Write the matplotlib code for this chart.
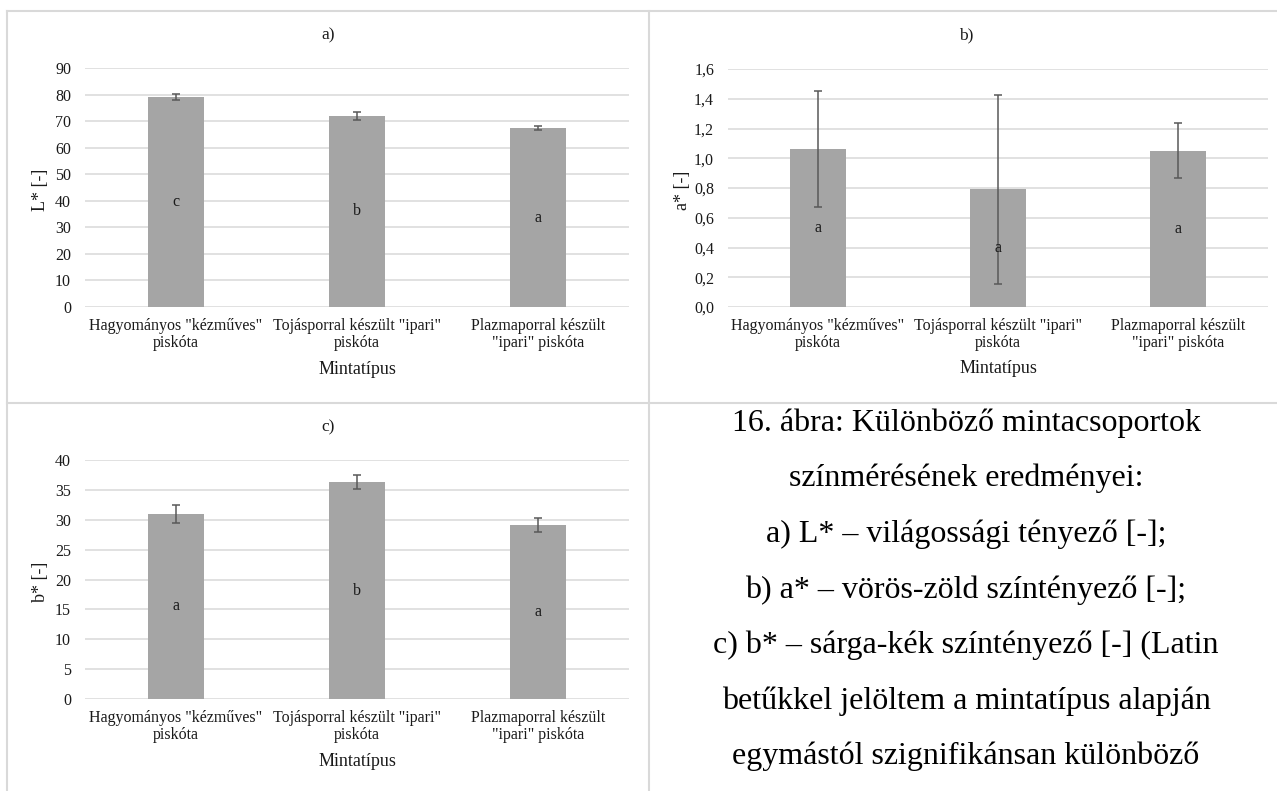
import matplotlib
matplotlib.use('Agg')
import matplotlib.pyplot as plt
from matplotlib.lines import Line2D

plt.rcParams['font.family'] = ['Liberation Serif', 'DejaVu Serif']

W, H = 1277, 791

categories = ['Hagyományos "kézműves"\npiskóta',
              'Tojásporral készült "ipari"\npiskóta',
              'Plazmaporral készült\n"ipari" piskóta']

L_mean = [79.2, 72.0, 67.4]
L_err = [1.1, 1.5, 0.9]
L_letters = ['c', 'b', 'a']

a_mean = [1.06, 0.79, 1.05]
a_err = [0.39, 0.635, 0.185]
a_letters = ['a', 'a', 'a']

b_mean = [31.0, 36.3, 29.1]
b_err = [1.5, 1.15, 1.15]
b_letters = ['a', 'b', 'a']

L_ticks = [0, 10, 20, 30, 40, 50, 60, 70, 80, 90]
a_ticks = [0.0, 0.2, 0.4, 0.6, 0.8, 1.0, 1.2, 1.4, 1.6]
b_ticks = [0, 5, 10, 15, 20, 25, 30, 35, 40]

caption = ['16. ábra: Különböző mintacsoportok',
           'színmérésének eredményei:',
           'a) L* – világossági tényező [-];',
           'b) a* – vörös-zöld színtényező [-];',
           'c) b* – sárga-kék színtényező [-] (Latin',
           'betűkkel jelöltem a mintatípus alapján',
           'egymástól szignifikánsan különböző']


def px(x, y):
    return x / W, 1 - y / H


def make_axes(fig, left, top, right, bottom):
    return fig.add_axes([left / W, 1 - bottom / H, (right - left) / W, (bottom - top) / H])


def bar_panel(ax, means, errs, letters, ticks, fmt):
    x = range(len(means))
    ax.bar(x, means, width=0.31, color='#a5a5a5', zorder=2)
    ax.errorbar(x, means, yerr=errs, fmt='none', ecolor='#595959',
                elinewidth=1.1, capsize=3.0, capthick=1.1, zorder=3)
    for i, (m, t) in enumerate(zip(means, letters)):
        ax.text(i, m / 2, t, ha='center', va='center', fontsize=11.5,
                color='#1a1a1a', zorder=4)
    ax.set_xlim(-0.5, len(means) - 0.5)
    ax.set_ylim(ticks[0], ticks[-1])
    ax.set_yticks(ticks)
    ax.set_yticklabels([fmt(v) for v in ticks], fontsize=11.5, color='#1a1a1a')
    ax.set_xticks(list(x))
    ax.set_xticklabels(categories, fontsize=11.5, color='#1a1a1a')
    for t in ax.get_xticklabels():
        t.set_linespacing(1.05)
    ax.tick_params(axis='both', length=0)
    ax.tick_params(axis='y', pad=10)
    ax.tick_params(axis='x', pad=8)
    ax.yaxis.grid(True, color='#d9d9d9', lw=1.1)
    ax.set_axisbelow(True)
    for s in ax.spines.values():
        s.set_visible(False)


fig = plt.figure(figsize=(W / 100, H / 100), dpi=100)

ax1 = make_axes(fig, 85, 68, 629, 307)
bar_panel(ax1, L_mean, L_err, L_letters, L_ticks, lambda v: str(v))

ax2 = make_axes(fig, 728, 69, 1268, 307)
bar_panel(ax2, a_mean, a_err, a_letters, a_ticks, lambda v: f'{v:.1f}'.replace('.', ','))

ax3 = make_axes(fig, 85, 460, 629, 699)
bar_panel(ax3, b_mean, b_err, b_letters, b_ticks, lambda v: str(v))

# panel titles and axis titles
for txt, x, y in [('a)', 328, 35), ('b)', 966, 35), ('c)', 328, 427)]:
    fig.text(*px(x, y), txt, ha='center', va='center', fontsize=12.5, color='#1a1a1a')
for txt, x, y in [('L* [-]', 41, 190), ('a* [-]', 682, 190), ('b* [-]', 41, 582)]:
    fig.text(*px(x, y), txt, ha='center', va='center', rotation=90, fontsize=13,
             color='#1a1a1a')
for x, y in [(357, 370), (998, 369), (357, 762)]:
    fig.text(*px(x, y), 'Mintatípus', ha='center', va='center', fontsize=13,
             color='#1a1a1a')

# caption
for i, line in enumerate(caption):
    fig.text(*px(966, 423 + i * 55.6), line, ha='center', va='center', fontsize=23)

# panel borders
border = '#d9d9d9'
for (x0, y0), (x1, y1) in [((7, 11), (1277, 11)), ((7, 11), (7, 791)),
                           ((649, 11), (649, 791)), ((7, 403), (1277, 403))]:
    fx0, fy0 = px(x0, y0)
    fx1, fy1 = px(x1, y1)
    fig.add_artist(Line2D([fx0, fx1], [fy0, fy1], color=border, lw=1.5,
                          transform=fig.transFigure))

fig.savefig('out.png', dpi=100, facecolor='white')
